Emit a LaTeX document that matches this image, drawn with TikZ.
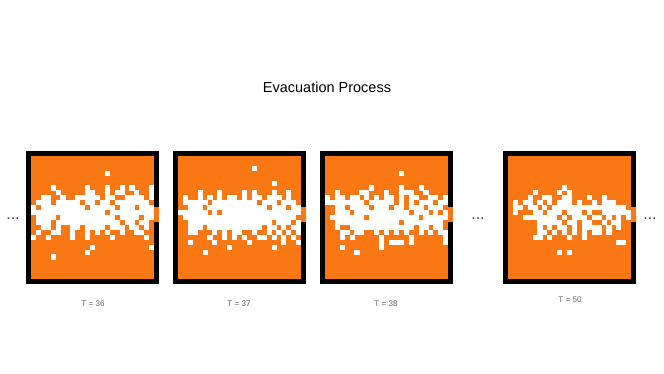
\documentclass[tikz,border=0pt]{standalone}
\usepackage{fontspec}
\setmainfont{Liberation Sans}
\usepackage{tikz}
\usepackage{xcolor}
\definecolor{Exit_Orange}{HTML}{FA7813}
\definecolor{Label_Gray}{HTML}{666666}
\definecolor{Dots_Gray}{HTML}{444444}

\tikzset{
  timelabel/.style={anchor=base, text=Label_Gray, font=\fontsize{8.1}{10}\selectfont},
  gapdots/.style={anchor=base, text=Dots_Gray, font=\fontsize{16}{18}\selectfont}
}

% one room: wall, floor, exit and the people (row/{columns})
\newcommand{\roomgrid}[2]{%
  \begin{scope}[shift={(#1,151)}, x=4.926pt, y=-4.926pt]
    \fill[black] (0,0) rectangle (27,27);
    \fill[Exit_Orange] (1,1) rectangle (26,26);
    \fill[Exit_Orange] (25.9,11.3) rectangle (27,14.5);
    \foreach \r/\cols in {#2}
      \foreach \c in \cols
        \fill[white] (\c+1,\r+1) rectangle ++(1.03,1.03);
  \end{scope}}

\begin{document}
\begin{tikzpicture}[x=1pt, y=-1pt]
    \fill[white] (0,0) rectangle (664,374);

    % Title
    \node[anchor=base, font=\fontsize{14.5}{17}\selectfont] (title) at (327,92.3) {Evacuation Process};

    % Room at T = 36
    \roomgrid{26}{3/{15}, 6/{4,11,15,18,20,24}, 7/{5,11,12,15,17,18,21,24},
      8/{2,3,6,9,10,11,12,13,15,16,19,20,21,22,24},
      9/{1,2,3,5,6,7,8,9,11,12,14,15,17,18,19,20,21,22,23},
      10/{0,2,3,4,5,6,7,8,9,10,12,13,14,15,16,18,19,20,22,23,24},
      11/{0,1,2,3,4,5,6,7,8,9,10,11,12,13,14,16,17,18,19,20,21,22,23,24},
      12/{1,2,3,4,6,7,8,9,10,11,12,13,14,15,16,18,19,20,21,23,24},
      13/{1,2,3,5,6,7,8,9,10,11,12,13,14,15,16,17,19,20,22,23},
      14/{2,3,5,8,9,11,12,13,14,16,17,18,20,21,23},
      15/{1,4,5,8,11,13,15,18,21,22}, 16/{0,3,8,11,16,23},
      18/{12,24}, 19/{11}, 20/{4}}

    % Room at T = 37
    \roomgrid{173}{2/{15}, 5/{19}, 7/{4,8,13,15,19,22},
      8/{1,4,6,8,10,11,13,15,16,18,19,20,22},
      9/{1,2,3,4,5,7,8,9,10,11,12,13,14,15,17,18,19,21,22,23},
      10/{2,3,4,6,7,8,9,10,11,12,13,14,15,16,17,19,20,21,23,24},
      11/{0,1,2,3,4,5,7,9,10,11,12,13,14,15,16,17,18,19,20,21,22,23,24},
      12/{1,2,3,4,5,6,7,8,9,10,11,12,13,14,15,16,17,18,19,20,21,22,23},
      13/{2,3,4,5,6,7,8,9,10,11,12,13,14,15,16,17,18,20,21,22,24},
      14/{2,3,4,6,7,8,9,10,11,12,13,14,15,16,18,19,21,23,24},
      15/{2,3,7,9,11,12,15,18,20,22,24}, 16/{6,9,11,13,16,17,19,21,23},
      17/{2,7,14,21,24}, 18/{10,19}, 19/{5}}

    % Room at T = 38
    \roomgrid{320}{3/{15}, 6/{9,15,19}, 7/{2,7,8,12,15,16,17,20},
      8/{0,2,3,5,6,8,10,12,13,15,17,18,21,22,24},
      9/{0,1,2,3,4,5,6,7,9,10,11,12,13,15,17,19,20,21,23,24},
      10/{2,3,5,6,7,8,10,11,12,14,15,17,18,19,21,22,23},
      11/{2,3,4,6,7,8,9,10,11,12,13,14,15,16,18,19,20,22,24},
      12/{1,2,3,4,5,6,7,9,10,11,12,13,14,15,16,17,18,20,21,22,23,24},
      13/{2,3,4,5,6,7,8,9,10,11,12,13,14,16,17,18,19,20,21,22,23},
      14/{2,5,6,7,8,9,10,11,12,13,14,15,16,17,19,20,22,23},
      15/{3,4,6,7,10,12,14,16,19,21,23,24}, 16/{3,5,11,17,24},
      17/{11,13,14,15,17,24}, 18/{3,11}, 19/{6}}

    % Room at T = 50
    \roomgrid{503}{6/{11}, 7/{5,10,12}, 8/{4,7,8,11,12,16,19},
      9/{1,3,4,6,8,10,11,12,14,17,19,20,21},
      10/{1,2,4,5,7,9,10,11,12,13,14,15,16,17,18,19,20,21,22,23},
      11/{1,5,6,8,9,10,12,13,14,16,19,20,21,22,23,24},
      12/{3,4,5,6,7,8,9,11,13,14,15,17,18,20,22,24},
      13/{6,7,8,9,10,12,13,15,16,19,21,22},
      14/{6,8,10,11,13,15,16,17,18,20,22},
      15/{6,7,9,11,13,15,17,18,20}, 16/{5,6,8,12,15},
      17/{22,23}, 19/{10,12}}

    % Time labels
    \node[timelabel] (t36) at (93,306) {T = 36};
    \node[timelabel] (t37) at (239,306) {T = 37};
    \node[timelabel] (t38) at (386,306) {T = 38};
    \node[timelabel] (t50) at (570,302.5) {T = 50};

    % Skipped steps
    \node[gapdots] (dotsL) at (13,219.5) {...};
    \node[gapdots] (dotsM) at (478,219.5) {...};
    \node[gapdots] (dotsR) at (650,219.5) {...};
\end{tikzpicture}
\end{document}
